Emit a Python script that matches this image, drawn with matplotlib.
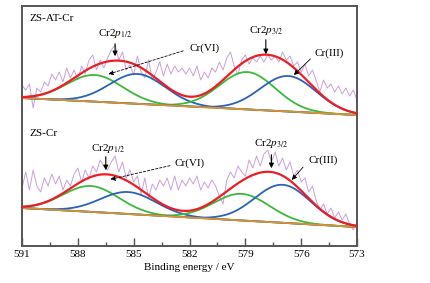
import numpy as np
import matplotlib
matplotlib.use('Agg')
import matplotlib.pyplot as plt
from matplotlib.ticker import MultipleLocator

plt.rcParams['font.family'] = ['Liberation Serif', 'DejaVu Serif']
plt.rcParams['mathtext.fontset'] = 'stix'
plt.rcParams['font.size'] = 8

# binding energy grid of the raw spectra (eV), 0.2 eV step
be = np.arange(591, 572.9, -0.2)

# raw spectra (a.u.)
raw_zsat = [161, 156, 162, 138, 158, 154, 164, 160, 172, 166, 174, 164, 178, 168, 176, 166,
            180, 172, 186, 191, 176, 186, 178, 188, 196, 201, 186, 194, 176, 181, 171, 190,
            174, 168, 186, 166, 174, 184, 170, 182, 172, 180, 174, 178, 172, 178, 170, 180,
            166, 174, 168, 178, 174, 184, 176, 188, 194, 180, 171, 186, 191, 182, 188, 184,
            190, 184, 191, 186, 190, 184, 194, 186, 190, 180, 184, 174, 182, 170, 176, 166,
            154, 166, 158, 162, 154, 160, 152, 158, 150, 156, 146]
raw_zs = [58, 74, 56, 76, 60, 54, 68, 60, 72, 62, 70, 56, 66, 60, 72, 78, 64, 76, 68, 80,
          74, 86, 80, 76, 84, 90, 74, 84, 68, 76, 64, 70, 52, 68, 48, 62, 56, 66, 60, 68,
          56, 70, 56, 66, 60, 68, 62, 70, 56, 64, 58, 66, 60, 50, 42, 66, 74, 68, 80, 74,
          70, 86, 78, 90, 80, 92, 96, 84, 94, 80, 88, 76, 84, 70, 76, 64, 68, 54, 60, 46,
          36, 42, 32, 38, 28, 34, 26, 32, 22, 16, 24]

# fitted components: (centre eV, height a.u., sigma eV)
peaks_zsat = {'green1': (587.1, 26.7, 1.5), 'blue1': (584.8, 29.9, 1.5),
              'green2': (578.9, 37.4, 1.5), 'blue2': (576.7, 35.5, 1.5)}
peaks_zs = {'green1': (587.3, 25.9, 1.5), 'blue1': (585.3, 22.0, 1.5),
            'green2': (579.2, 26.6, 1.5), 'blue2': (577.0, 38.0, 1.5)}
# background end points (591 eV, 573 eV)
bg_zsat = (148, 131)
bg_zs = (38, 19)

colors = {'green1': '#3cb83c', 'green2': '#3cb83c', 'blue1': '#2a62b8', 'blue2': '#2a62b8'}

fig = plt.figure(figsize=(4.3, 2.83), dpi=100)
ax = fig.add_axes([0.0512, 0.1307, 0.7791, 0.8481])

xf = np.linspace(591, 573, 400)


def draw(raw, peaks, bg):
    ax.plot(be, raw, color='#c9a0d8', lw=0.7, zorder=1)
    base = bg[0] + (bg[1] - bg[0]) * (591 - xf) / 18.0
    total = base.copy()
    for k, (c, h, s) in peaks.items():
        g = h * np.exp(-(xf - c) ** 2 / (2 * s ** 2))
        total += g
        ax.plot(xf, base + g, color=colors[k], lw=1.3, zorder=2)
    ax.plot(xf, base, color='#e09030', lw=1.3, zorder=2)
    ax.plot(xf, total, color='#ee1c24', lw=1.6, zorder=3)


draw(raw_zsat, peaks_zsat, bg_zsat)
draw(raw_zs, peaks_zs, bg_zs)

arr = dict(arrowstyle='-|>', color='black', lw=0.8, mutation_scale=7)
dash = dict(arrowstyle='-|>', color='black', lw=0.6, ls=(0, (3, 2)), mutation_scale=7)
thin = dict(arrowstyle='-|>', color='black', lw=0.6, mutation_scale=7)

# top panel labels
ax.text(590.6, 228, 'ZS-AT-Cr', ha='left', va='center')
ax.annotate('', xy=(586.0, 187), xytext=(586.0, 205), arrowprops=arr)
ax.text(586.0, 213, 'Cr2$\\mathit{p}_{1/2}$', ha='center', va='center')
ax.annotate('', xy=(586.5, 171), xytext=(582.2, 196), arrowprops=dash)
ax.text(582.0, 198, 'Cr(VI)', ha='left', va='center')
ax.annotate('', xy=(577.9, 189), xytext=(577.9, 209), arrowprops=arr)
ax.text(577.9, 216, 'Cr2$\\mathit{p}_{3/2}$', ha='center', va='center')
ax.annotate('', xy=(576.5, 169), xytext=(575.4, 189), arrowprops=thin)
ax.text(575.3, 193, 'Cr(III)', ha='left', va='center')

# bottom panel labels
ax.text(590.6, 113, 'ZS-Cr', ha='left', va='center')
ax.annotate('', xy=(586.5, 73), xytext=(586.5, 92), arrowprops=arr)
ax.text(586.4, 98, 'Cr2$\\mathit{p}_{1/2}$', ha='center', va='center')
ax.annotate('', xy=(586.4, 66), xytext=(582.9, 81), arrowprops=dash)
ax.text(582.8, 83, 'Cr(VI)', ha='left', va='center')
ax.annotate('', xy=(577.6, 75), xytext=(577.6, 94), arrowprops=arr)
ax.text(577.6, 103, 'Cr2$\\mathit{p}_{3/2}$', ha='center', va='center')
ax.annotate('', xy=(576.6, 64), xytext=(575.8, 81), arrowprops=thin)
ax.text(575.6, 86, 'Cr(III)', ha='left', va='center')

ax.set_xlim(591, 573)
ax.set_ylim(0, 240)
ax.xaxis.set_major_locator(MultipleLocator(3))
ax.xaxis.set_minor_locator(MultipleLocator(1.5))
ax.tick_params(axis='x', which='both', direction='in', color='#555555', pad=3)
ax.tick_params(axis='x', which='major', length=5.5, width=1)
ax.tick_params(axis='x', which='minor', length=3, width=1)
ax.set_yticks([])
for sp in ax.spines.values():
    sp.set_color('#555555')
    sp.set_linewidth(1.4)
ax.set_xlabel('Binding energy / eV', labelpad=3)

fig.savefig('out.png', dpi=100)
